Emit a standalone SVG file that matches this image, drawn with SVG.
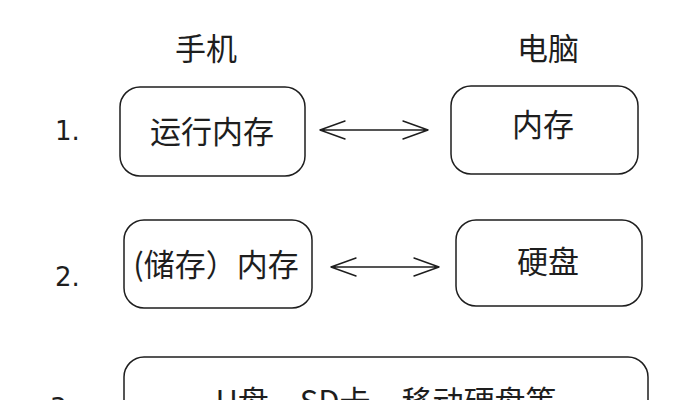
<svg xmlns="http://www.w3.org/2000/svg" width="698" height="400" viewBox="0 0 698 400">
<style>
.box{fill:#fff;stroke:#1e1e1e;stroke-width:1.5}
.t{font-family:"Noto Sans CJK SC","Noto Sans",sans-serif;font-size:31px;fill:#1e1e1e;text-anchor:middle}
.n{font-family:"DejaVu Sans","Noto Sans",sans-serif;font-size:26px;fill:#1e1e1e}
.a{fill:none;stroke:#1e1e1e;stroke-width:1.4;stroke-linecap:round;stroke-linejoin:round}
</style>
<rect width="698" height="400" fill="#fff"/>
<g id="headers">
<text class="t" x="206" y="60">手机</text>
<text class="t" x="548" y="60">电脑</text>
</g>
<g id="labels">
<text class="n" x="55" y="140">1.</text>
<text class="n" x="55" y="286">2.</text>
<text class="n" x="50" y="417">3.</text>
</g>
<g id="phone-ram">
<rect class="box" x="120" y="87" width="185" height="89" rx="20"/>
<text class="t" x="212" y="143">运行内存</text>
</g>
<g id="pc-ram">
<rect class="box" x="451" y="86" width="187" height="88" rx="20"/>
<text class="t" x="543" y="136">内存</text>
</g>
<g id="phone-storage">
<rect class="box" x="124" y="220" width="188" height="88" rx="20"/>
<text class="t" x="216" y="276">(储存）内存</text>
</g>
<g id="pc-disk">
<rect class="box" x="456" y="220" width="186" height="86" rx="20"/>
<text class="t" x="548" y="273">硬盘</text>
</g>
<g id="external">
<rect class="box" x="124" y="357" width="524" height="80" rx="20"/>
<text class="t" x="386" y="413">U盘、SD卡、移动硬盘等</text>
</g>
<g id="connectors">
<path class="a" d="M320 130 L428 130 M345 121 L320 130 L345 139 M403 121 L428 130 L403 139"/>
<path class="a" d="M331 267 L439 267 M356 258 L331 267 L356 276 M414 258 L439 267 L414 276"/>
</g>
</svg>
